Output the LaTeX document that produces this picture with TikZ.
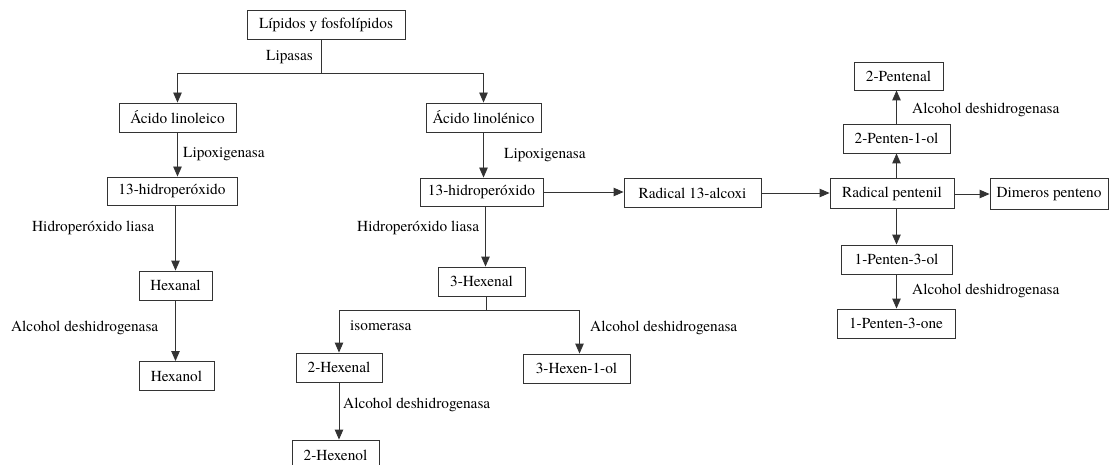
\documentclass[tikz,border=0pt]{standalone}
\usepackage{fontspec}
\setmainfont{texgyretermes}[Extension=.otf, UprightFont=*-regular, BoldFont=*-bold, ItalicFont=*-italic, BoldItalicFont=*-bolditalic]
\usetikzlibrary{arrows.meta}
\begin{document}
\begin{tikzpicture}[x=1pt,y=-1pt,
  box/.style={draw=black!80, line width=0.9pt, rectangle, inner sep=0pt, minimum height=29pt, font=\fontsize{15.3}{18}\selectfont, text=black},
  lbl/.style={anchor=west, inner sep=0pt, font=\fontsize{15.3}{18}\selectfont, text=black},
  ln/.style={draw=black!80, line width=0.9pt},
  arr/.style={ln, -{Triangle[length=10pt,width=8.5pt]}}]
\useasboundingbox (0,0) rectangle (1110,465);
% nodes
\node[box, minimum width=158pt] (lip) at (326,24.5) {Lípidos y fosfolípidos};
\node[box, minimum width=117pt] (ali) at (177.5,117.5) {Ácido linoleico};
\node[box, minimum width=115pt] (aln) at (483.5,117.5) {Ácido linolénico};
\node[box, minimum width=130pt, minimum height=28pt] (h13a) at (172,191) {13-hidroperóxido};
\node[box, minimum width=123pt, minimum height=28pt] (h13b) at (481.5,192) {13-hidroperóxido};
\node[box, minimum width=73pt] (hexanal) at (175.5,285.5) {Hexanal};
\node[box, minimum width=75pt] (hexanol) at (176.5,376) {Hexanol};
\node[box, minimum width=87pt] (hex3) at (481.5,281.5) {3-Hexenal};
\node[box, minimum width=86pt] (hex2al) at (339,367.5) {2-Hexenal};
\node[box, minimum width=87pt, minimum height=30pt] (hex2ol) at (335.5,455) {2-Hexenol};
\node[box, minimum width=107pt] (hex3ol) at (576.5,368.5) {3-Hexen-1-ol};
\node[box, minimum width=137pt] (alcoxi) at (692.5,193) {Radical 13-alcoxi};
\node[box, minimum width=124pt, minimum height=30pt] (pentenil) at (892,193.5) {Radical pentenil};
\node[box, minimum width=118pt, minimum height=31pt] (dimeros) at (1049,194) {Dimeros penteno};
\node[box, minimum width=89pt, minimum height=28pt] (p2al) at (898.5,76) {2-Pentenal};
\node[box, minimum width=107pt] (p2ol) at (896.5,138.5) {2-Penten-1-ol};
\node[box, minimum width=111pt] (p3ol) at (896.5,259.5) {1-Penten-3-ol};
\node[box, minimum width=118pt] (p3one) at (896,323.5) {1-Penten-3-one};
% junctions
\coordinate (lj) at (321,73);
\coordinate (hj) at (486,310);
% connectors
\draw[ln] (lip.south -| lj) -- (lj);
\draw[arr] (lj) -| (ali.north);
\draw[arr] (lj) -| (aln.north);
\draw[arr] (ali.south) -- (ali.south |- h13a.north);
\draw[arr] (aln.south) -- (aln.south |- h13b.north);
\draw[arr] (h13a.south -| hexanal.north) -- (hexanal.north);
\draw[arr] (hexanal.south) -- (hexanal.south |- hexanol.north);
\draw[arr] ([xshift=4pt]h13b.south) -- ([xshift=4pt]h13b.south |- hex3.north);
\draw[ln] (hex3.south -| hj) -- (hj);
\draw[arr] (hj) -| (hex2al.north);
\draw[arr] (hj) -| ([xshift=3pt]hex3ol.north);
\draw[arr] (hex2al.south) -- (hex2al.south |- hex2ol.north);
\draw[arr] (h13b.east) -- (h13b.east -| alcoxi.west);
\draw[arr] (alcoxi.east) -- (alcoxi.east -| pentenil.west);
\draw[arr] (pentenil.east |- dimeros.west) -- (dimeros.west);
\draw[arr] (p2ol.south |- pentenil.north) -- (p2ol.south);
\draw[arr] (p2ol.north) -- (p2ol.north |- p2al.south);
\draw[arr] (p3ol.north |- pentenil.south) -- (p3ol.north);
\draw[arr] (p3ol.south) -- (p3ol.south |- p3one.north);
% labels
\node[lbl] (l1) at (266,57) {Lipasas};
\node[lbl] (l2) at (183,154) {Lipoxigenasa};
\node[lbl] (l3) at (504,155) {Lipoxigenasa};
\node[lbl] (l4) at (32,228) {Hidroperóxido liasa};
\node[lbl] (l5) at (357,228) {Hidroperóxido liasa};
\node[lbl] (l6) at (11,328) {Alcohol deshidrogenasa};
\node[lbl] (l7) at (350,326) {isomerasa};
\node[lbl] (l8) at (590,328) {Alcohol deshidrogenasa};
\node[lbl] (l9) at (343,405) {Alcohol deshidrogenasa};
\node[lbl] (l10) at (912,110) {Alcohol deshidrogenasa};
\node[lbl] (l11) at (912,291) {Alcohol deshidrogenasa};
\end{tikzpicture}
\end{document}
